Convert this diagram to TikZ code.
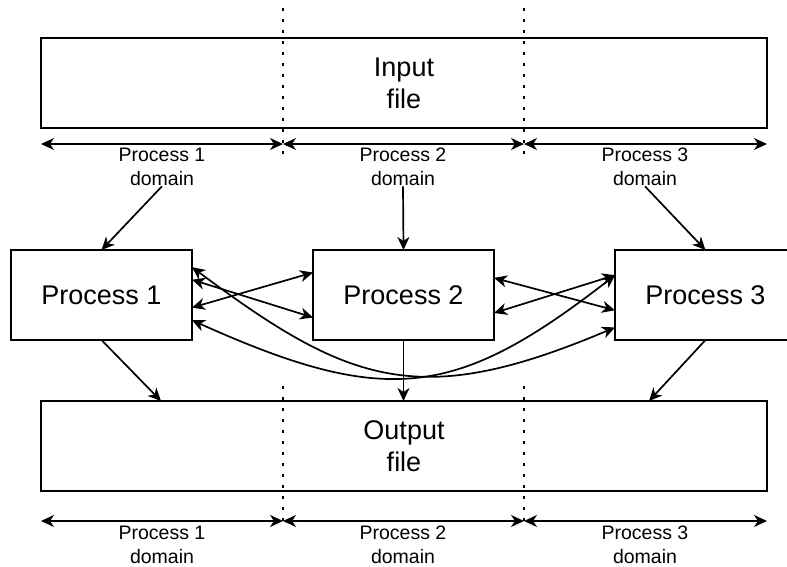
\documentclass[tikz,border=0pt]{standalone}
\usepackage{fontspec}
\setmainfont{Liberation Sans}
\usetikzlibrary{arrows.meta,calc}

\tikzset{
  tip/.style={Stealth[length=13pt,width=12pt,inset=4pt]},
  box/.style={draw=black, line width=1.8pt, fill=white, inner sep=0pt, outer sep=0pt,
              align=center, font=\fontsize{27}{32}\selectfont},
  filebox/.style={box, minimum width=726pt, minimum height=90pt},
  procbox/.style={box, minimum width=181pt, minimum height=90pt},
  domlabel/.style={inner sep=0pt, align=center, font=\fontsize{19.5}{24.5}\selectfont},
  arr/.style={line width=1.7pt, -{Stealth[length=13pt,width=12pt,inset=4pt]}},
  biarr/.style={line width=1.7pt, {Stealth[length=13pt,width=12pt,inset=4pt]}-{Stealth[length=13pt,width=12pt,inset=4pt]}},
  border/.style={line width=2.8pt, dash pattern=on 2.8pt off 8.2pt}
}

\begin{document}
\begin{tikzpicture}[x=1pt,y=-1pt]
\useasboundingbox (0,0) rectangle (787,567);

% domain boundaries
\coordinate (t1a) at (283,8);   \coordinate (t1b) at (283,158);
\coordinate (t2a) at (524,8);   \coordinate (t2b) at (524,158);
\coordinate (b1a) at (283,386); \coordinate (b1b) at (283,526);
\coordinate (b2a) at (524,386); \coordinate (b2b) at (524,526);

% files
\node[filebox] (input)  at (404,83)  {Input\\file};
\node[filebox] (output) at (404,446) {Output\\file};

\draw[border] (t1a) -- (t1b);
\draw[border] (t2a) -- (t2b);
\draw[border] (b1a) -- (b1b);
\draw[border] (b2a) -- (b2b);

% domain extents under the input file
\coordinate (ia0) at (41,144);  \coordinate (ia1) at (283,144);
\coordinate (ia2) at (524,144); \coordinate (ia3) at (767,144);
\draw[biarr] (ia0) -- (ia1);
\draw[biarr] (ia1) -- (ia2);
\draw[biarr] (ia2) -- (ia3);
\node[domlabel] (d1) at (162,167) {Process 1\\domain};
\node[domlabel] (d2) at (403,167) {Process 2\\domain};
\node[domlabel] (d3) at (645,167) {Process 3\\domain};

% domain extents under the output file
\coordinate (oa0) at (41,521);  \coordinate (oa1) at (283,521);
\coordinate (oa2) at (524,521); \coordinate (oa3) at (767,521);
\draw[biarr] (oa0) -- (oa1);
\draw[biarr] (oa1) -- (oa2);
\draw[biarr] (oa2) -- (oa3);
\node[domlabel] (e1) at (162,545) {Process 1\\domain};
\node[domlabel] (e2) at (403,545) {Process 2\\domain};
\node[domlabel] (e3) at (645,545) {Process 3\\domain};

% processes
\node[procbox] (p1) at (101.5,295) {Process 1};
\node[procbox] (p2) at (403.5,295) {Process 2};
\node[procbox] (p3) at (705.5,295) {Process 3};

% reading the input
\draw[arr] (d1.south) -- (p1.north);
\draw[arr] (d2.south) -- (p2.north);
\draw[arr] (d3.south) -- (p3.north);

% writing the output
\coordinate (w1) at ($(output.north west)+(120,0)$);
\coordinate (w3) at ($(output.north west)+(608,0)$);
\draw[arr] (p1.south) -- (w1);
\draw[arr] (p2.south) -- (p2.south |- output.north);
\draw[arr] (p3.south) -- (w3);

% exchange points on the process borders
\coordinate (p1a) at ($(p1.north east)!0.19!(p1.south east)$);
\coordinate (p1b) at ($(p1.north east)!0.33!(p1.south east)$);
\coordinate (p1c) at ($(p1.north east)!0.64!(p1.south east)$);
\coordinate (p1d) at ($(p1.north east)!0.78!(p1.south east)$);
\coordinate (p2a) at ($(p2.north west)!0.25!(p2.south west)$);
\coordinate (p2b) at ($(p2.north west)!0.75!(p2.south west)$);
\coordinate (p2c) at ($(p2.north east)!0.31!(p2.south east)$);
\coordinate (p2d) at ($(p2.north east)!0.70!(p2.south east)$);
\coordinate (p3a) at ($(p3.north west)!0.28!(p3.south west)$);
\coordinate (p3b) at ($(p3.north west)!0.67!(p3.south west)$);
\coordinate (p3c) at ($(p3.north west)!0.86!(p3.south west)$);

% halo exchanges
\draw[biarr] (p1b) -- (p2b);
\draw[biarr] (p1c) -- (p2a);
\draw[biarr] (p2c) -- (p3b);
\draw[biarr] (p2d) -- (p3a);
\draw[biarr] (p1a) .. controls (350,385) and (420,410) .. (p3c);
\draw[biarr] (p1d) .. controls (387,408) and (457,398) .. (p3a);
\end{tikzpicture}
\end{document}
